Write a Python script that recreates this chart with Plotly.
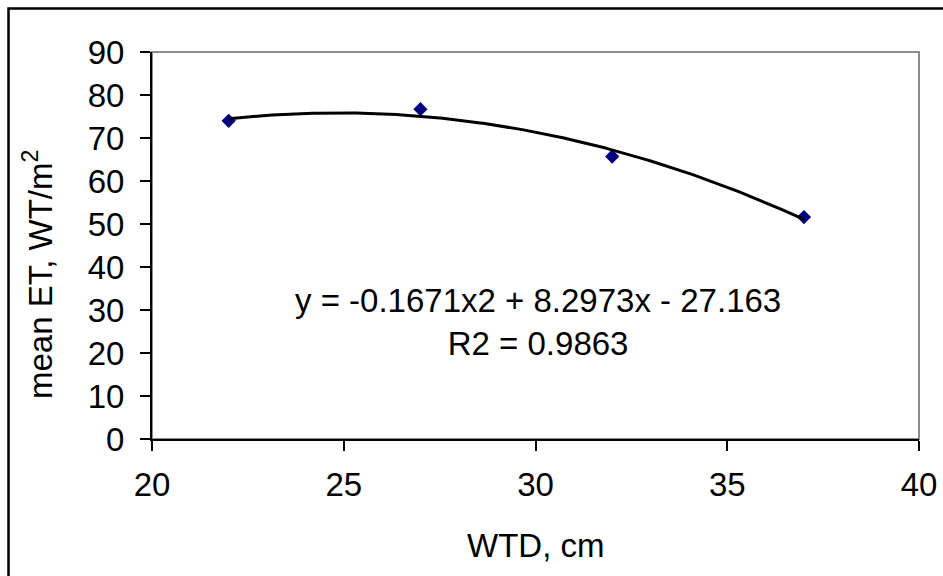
import numpy as np
import plotly.graph_objects as go

# Data
wtd_cm = [22, 27, 32, 37]
mean_et = [74.0, 76.7, 65.7, 51.6]
# Trendline coefficients (from the chart's equation): a*x^2 + b*x + c
trend_coef = [-0.1671, 8.2973, -27.163]
x_ticks = [20, 25, 30, 35, 40]
y_ticks = [0, 10, 20, 30, 40, 50, 60, 70, 80, 90]
equation_text = "y = -0.1671x2 + 8.2973x - 27.163<br>R2 = 0.9863"

W, H = 943, 576
# plot-area edges in window pixels
PL, PR, PT, PB = 152, 919, 52, 439
L, T, R, B = PL, PT, W - PR, H - PB
FONT = "Arial, Liberation Sans, sans-serif"
FS = 33

x_fit = np.linspace(min(wtd_cm), max(wtd_cm), 200)
y_fit = np.polyval(trend_coef, x_fit)

fig = go.Figure()
fig.add_trace(go.Scatter(
    x=wtd_cm, y=mean_et, mode="markers",
    marker=dict(symbol="diamond", size=11, color="#000080", line=dict(width=0)),
    showlegend=False, hoverinfo="skip"))
fig.add_trace(go.Scatter(
    x=x_fit, y=y_fit, mode="lines",
    line=dict(color="black", width=3),
    showlegend=False, hoverinfo="skip"))

pw = PR - PL
ph = PB - PT
def px_x(p):
    return (p - PL) / pw
def px_y(p):
    return (PB - p) / ph

axis_common = dict(
    showgrid=False, zeroline=False, showline=True, linecolor="black", linewidth=2,
    ticks="outside", ticklen=10, tickwidth=2, tickcolor="black", automargin=False,
    tickfont=dict(family=FONT, size=FS, color="black"),
)
fig.update_xaxes(range=[20, 40], tickvals=x_ticks, ticklabelstandoff=5, **axis_common)
fig.update_yaxes(range=[0, 90], tickvals=y_ticks, ticklabelstandoff=9, **axis_common)

shapes = [
    # gray plot-area frame (top/right visible)
    dict(type="rect", xref="x domain", yref="y domain", x0=0, x1=1, y0=0, y1=1,
         line=dict(color="#8c8c8c", width=2), layer="below"),
    # outer chart border
    dict(type="rect", xref="paper", yref="paper",
         x0=px_x(8.5), x1=px_x(990), y0=px_y(8.5), y1=px_y(640),
         line=dict(color="black", width=2.5), layer="below"),
]

annotations = [
    dict(text=equation_text, xref="paper", yref="paper",
         x=px_x(538), y=px_y(322), xanchor="center", yanchor="middle",
         showarrow=False, align="center",
         font=dict(family=FONT, size=FS, color="black")),
    dict(text="WTD, cm", xref="paper", yref="paper",
         x=px_x(535), y=px_y(545), xanchor="center", yanchor="middle",
         showarrow=False, font=dict(family=FONT, size=FS, color="black")),
    dict(text="mean ET, WT/m<sup>2</sup>", xref="paper", yref="paper",
         x=px_x(38), y=px_y(275), xanchor="center", yanchor="middle",
         textangle=-90, showarrow=False,
         font=dict(family=FONT, size=FS, color="black")),
]

fig.update_layout(
    width=W, height=H,
    margin=dict(l=L, r=R, t=T, b=B, autoexpand=False),
    paper_bgcolor="white", plot_bgcolor="white",
    shapes=shapes, annotations=annotations,
    showlegend=False,
)

fig.write_html(
    "out.html",
    config={"displayModeBar": False},
    post_script="document.body.style.margin='0';document.body.style.overflow='hidden';",
)
